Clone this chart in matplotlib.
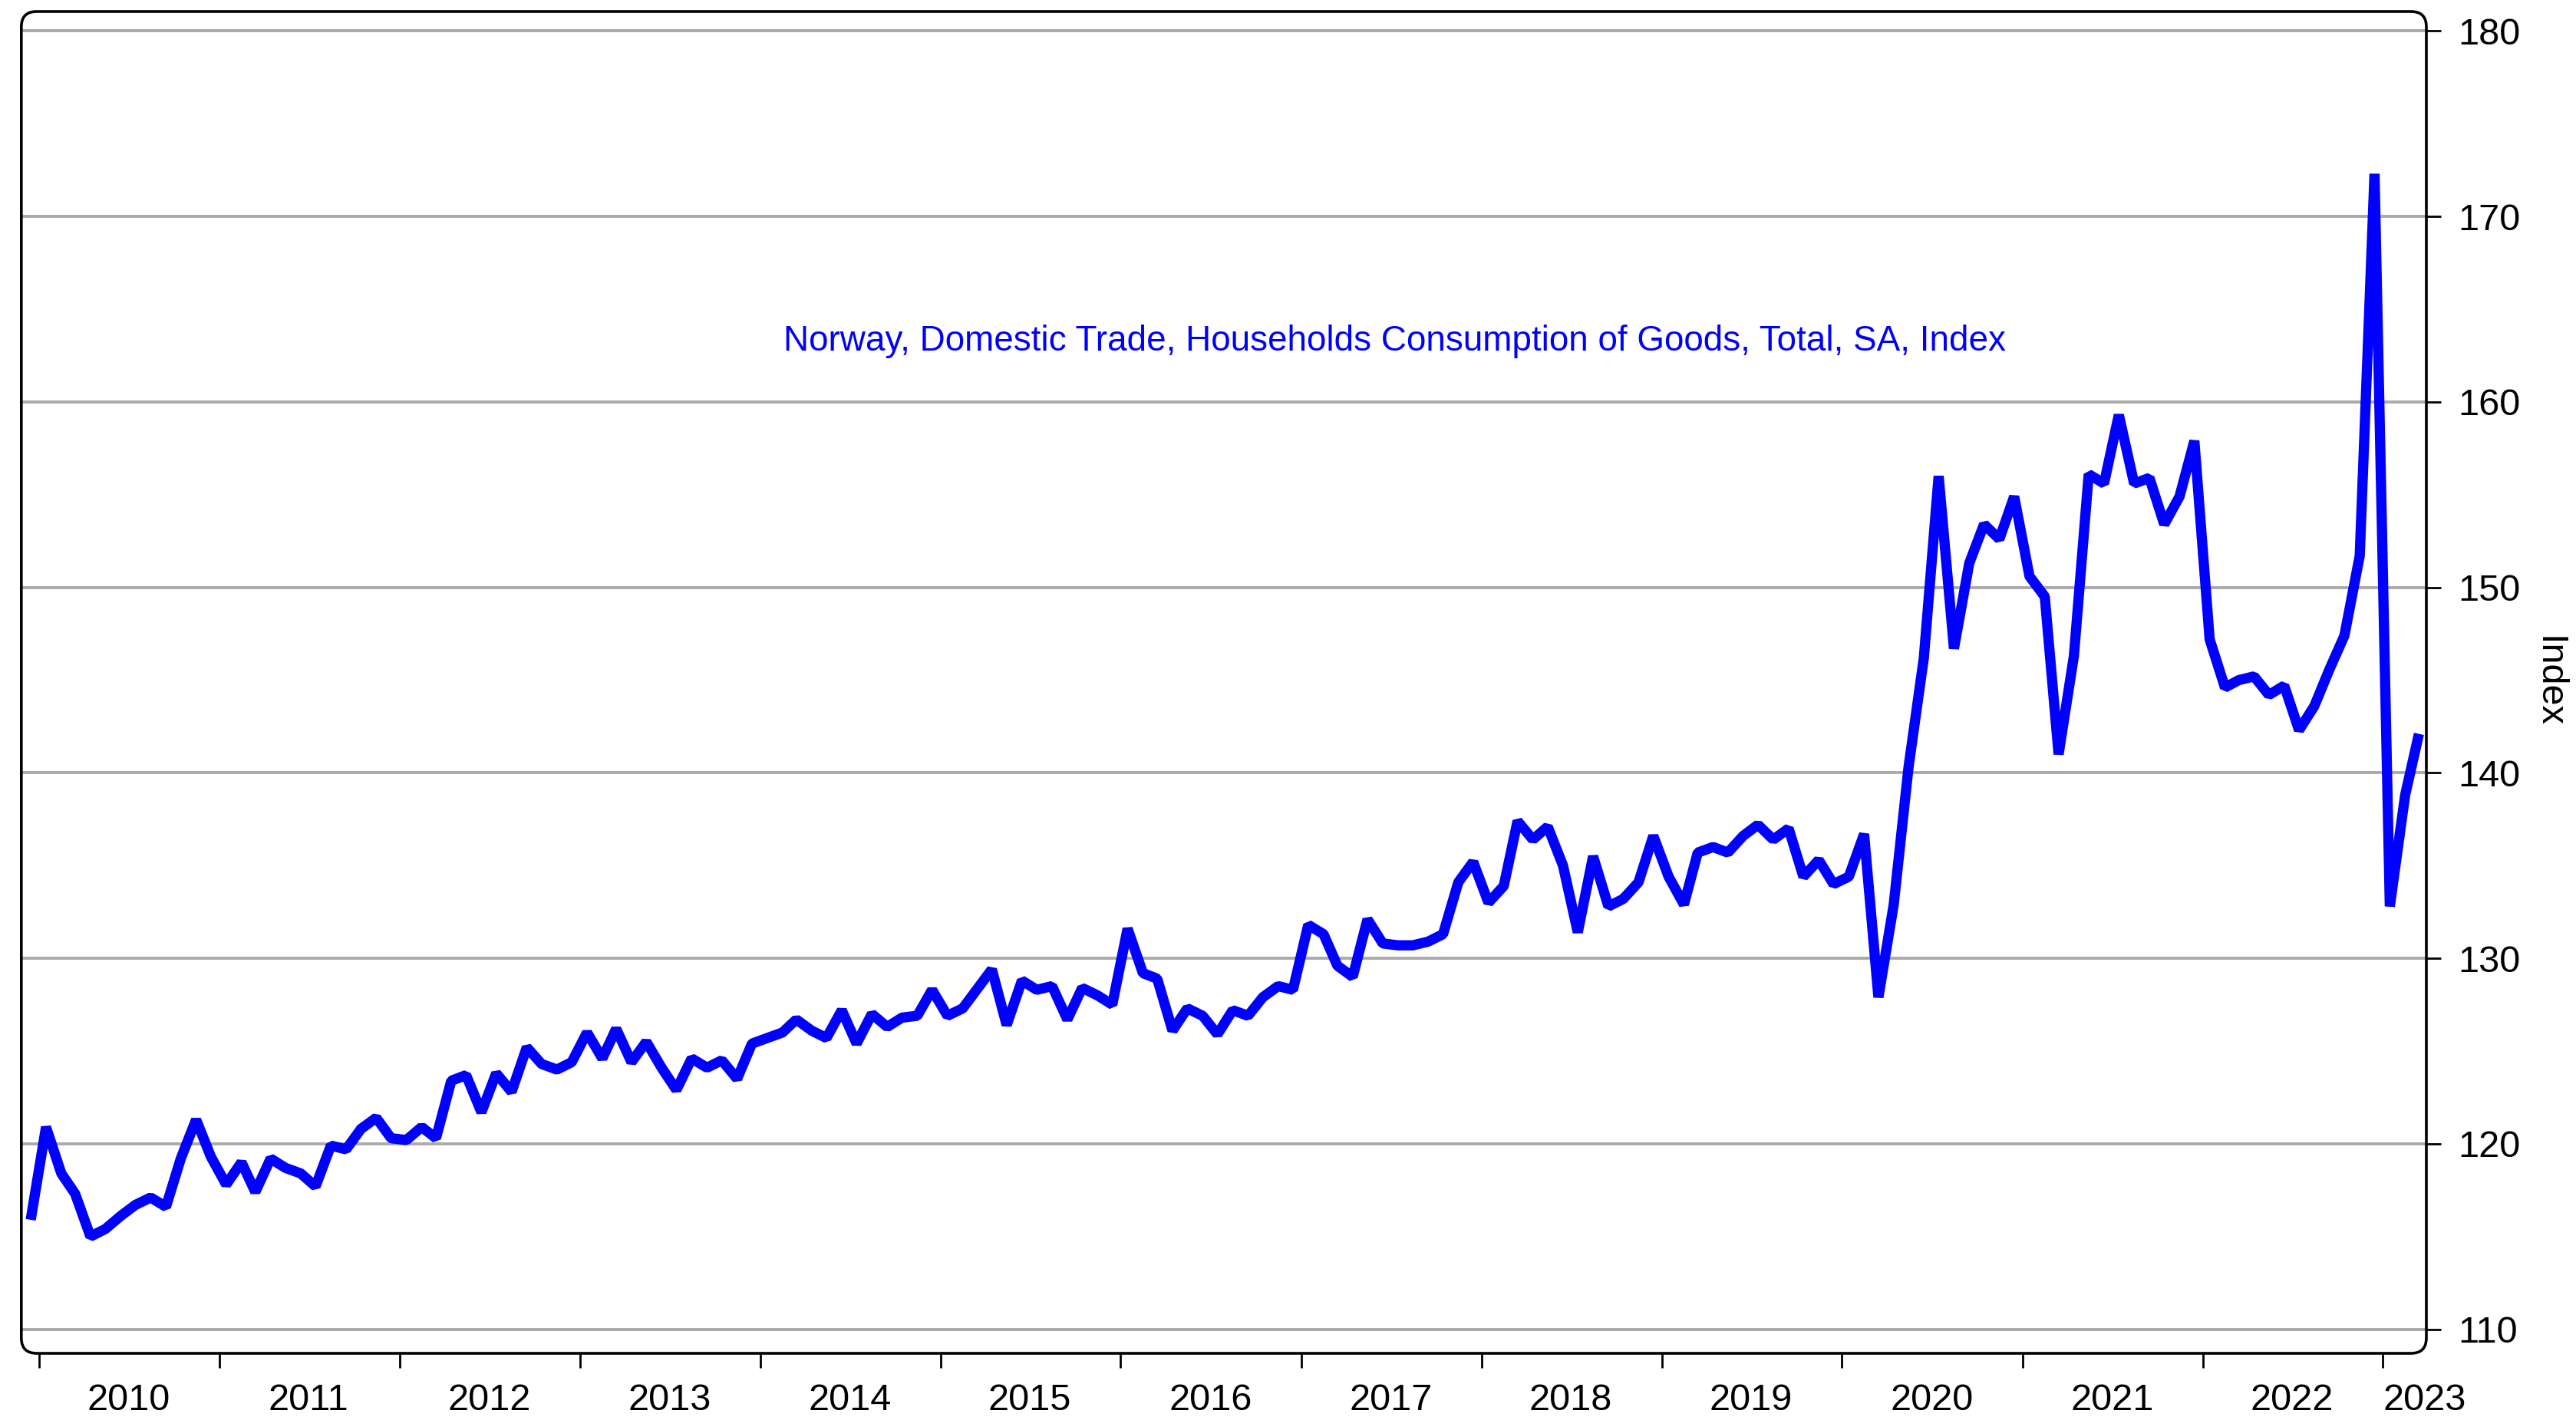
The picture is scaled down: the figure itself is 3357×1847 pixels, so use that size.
import pandas as pd
import matplotlib.pyplot as plt
from matplotlib.patches import FancyBboxPatch

plt.rcParams['font.family'] = ['Liberation Sans', 'DejaVu Sans']

# Monthly index, Dec 2009 - Mar 2023
values = [
    115.9, 120.9, 118.4, 117.3, 115.0, 115.4, 116.1, 116.7, 117.1, 116.6, 119.2, 121.3,
    119.3, 117.8, 119.0, 117.4, 119.2, 118.7, 118.4, 117.7, 119.9, 119.7, 120.8, 121.4,
    120.3, 120.2, 120.9, 120.3, 123.4, 123.7, 121.7, 123.8, 122.8, 125.2, 124.3, 124.0,
    124.4, 126.0, 124.6, 126.2, 124.4, 125.5, 124.1, 122.9, 124.6, 124.1, 124.5, 123.5,
    125.4, 125.7, 126.0, 126.7, 126.1, 125.7, 127.2, 125.4, 127.0, 126.3, 126.8, 126.9,
    128.3, 126.9, 127.3, 128.3, 129.4, 126.4, 128.8, 128.3, 128.5, 126.7, 128.4, 128.0,
    127.5, 131.6, 129.2, 128.9, 126.1, 127.3, 126.9, 125.9, 127.2, 126.9, 127.9, 128.5,
    128.3, 131.8, 131.3, 129.6, 129.0, 132.1, 130.8, 130.7, 130.7, 130.9, 131.3, 134.1,
    135.2, 133.0, 133.9, 137.4, 136.4, 137.1, 135.0, 131.4, 135.5, 132.8, 133.2, 134.1,
    136.6, 134.4, 132.9, 135.7, 136.0, 135.7, 136.6, 137.2, 136.4, 137.0, 134.4, 135.3,
    134.0, 134.4, 136.7, 127.9, 132.9, 140.3, 146.2, 156.0, 146.7, 151.3, 153.4, 152.6,
    154.9, 150.6, 149.5, 141.0, 146.3, 156.1, 155.6, 159.3, 155.6, 155.9, 153.4, 154.9,
    157.9, 147.2, 144.6, 145.0, 145.2, 144.2, 144.7, 142.3, 143.6, 145.6, 147.4, 151.7,
    172.3, 132.8, 138.8, 142.1,
]
years = [str(y) for y in range(2010, 2024)]
y_ticks = [110, 120, 130, 140, 150, 160, 170, 180]
title = 'Norway, Domestic Trade, Households Consumption of Goods, Total, SA, Index'

dates = pd.date_range('2009-12-01', periods=len(values), freq='MS') + pd.Timedelta(days=14)
year_starts = [pd.Timestamp(f'{y}-01-01') for y in years]
label_pos = [pd.Timestamp(f'{y}-07-01') for y in years[:-1]] + [pd.Timestamp('2023-03-27')]

fig = plt.figure(figsize=(16.785, 9.235), dpi=200)
ax = fig.add_axes([0.00828, 0.04494, 0.93363, 0.94694])

ax.plot(dates, values, color='#0000ff', lw=4.8, solid_joinstyle='bevel',
        solid_capstyle='butt', zorder=3)

ax.set_xlim(pd.Timestamp('2009-11-26'), pd.Timestamp('2023-03-30'))
ax.set_ylim(108.7, 181.05)

# y axis on the right
ax.yaxis.tick_right()
ax.set_yticks(y_ticks)
ax.tick_params(axis='y', direction='out', length=7, width=1.0, labelsize=17.5, pad=8)
ax.grid(axis='y', color='#aaaaaa', lw=1.4)

# year ticks at boundaries, labels centred in between
ax.set_xticks(year_starts)
ax.set_xticklabels([''] * len(year_starts))
ax.set_xticks(label_pos, minor=True)
ax.set_xticklabels(years, minor=True)
ax.tick_params(axis='x', which='major', direction='out', length=7, width=1.0)
ax.tick_params(axis='x', which='minor', length=0, labelsize=17.5, pad=14)

for s in ax.spines.values():
    s.set_visible(False)

# rounded frame
asp = (0.93363 * 3357) / (0.94694 * 1847)
frame = FancyBboxPatch((0, 0), 1, 1, boxstyle='round,pad=0,rounding_size=0.0064',
                       transform=ax.transAxes, mutation_aspect=asp, fill=False,
                       ec='black', lw=1.3, clip_on=False, zorder=5)
ax.add_patch(frame)

ax.text(0.571, 0.754, title, transform=ax.transAxes, color='#0000ff',
        fontsize=16.5, ha='center', va='center')

fig.text(3321 / 3357, 1 - 888 / 1847, 'Index', rotation=270, fontsize=17.5,
         ha='center', va='center')

fig.savefig('out.png', dpi=200)
plt.close()
